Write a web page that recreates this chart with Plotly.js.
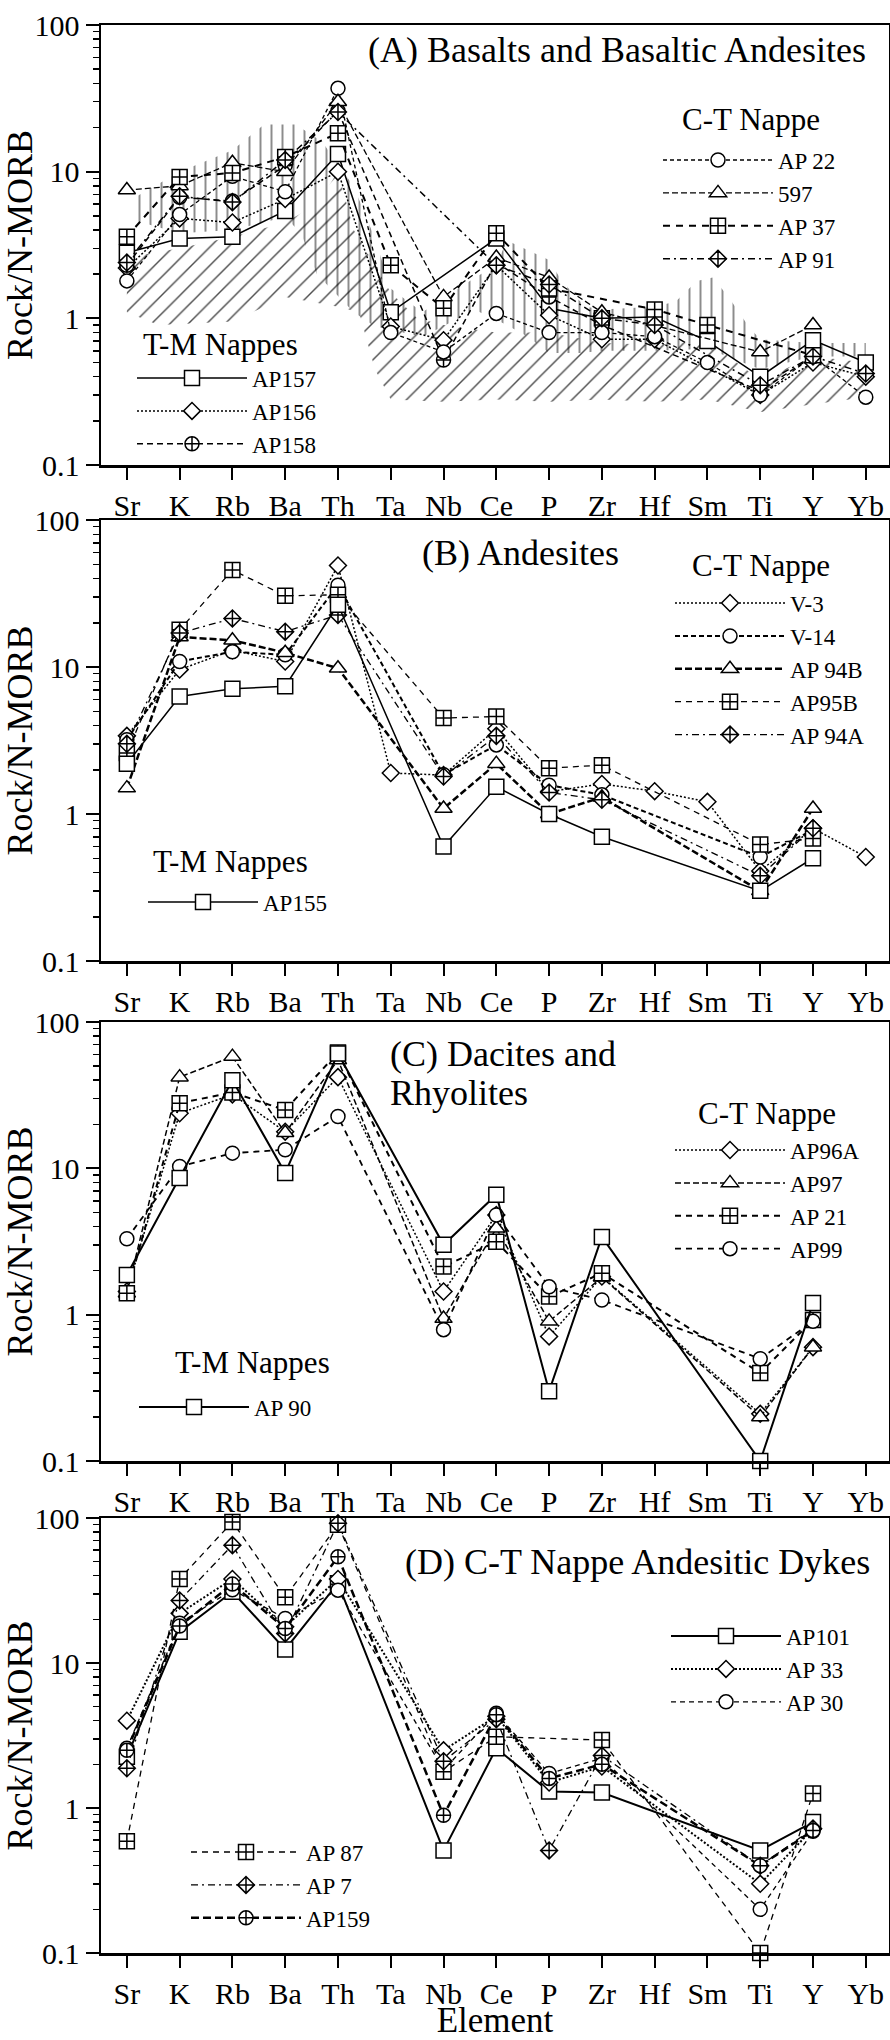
<!DOCTYPE html>
<html><head><meta charset="utf-8">
<script src="https://cdn.plot.ly/plotly-3.0.1.min.js"></script>
<style>html,body{margin:0;padding:0;background:#fff}</style>
</head><body>
<div id="chart" style="width:890px;height:2040px"></div>
<script>
// ---------- categories ----------
const elements = ['Sr','K','Rb','Ba','Th','Ta','Nb','Ce','P','Zr','Hf','Sm','Ti','Y','Yb'];
const yTickVals = [0.1, 1, 10, 100];
const yTickText = ['0.1', '1', '10', '100'];

// ---------- Panel A: Basalts and Basaltic Andesites ----------
const A_AP157 = [2.8, 3.5, 3.6, 5.4, 13.2, 1.1, null, 3.5, 1.17, 1.0, 1.02, 0.70, 0.40, 0.71, 0.50];
const A_AP156 = [2.2, 4.8, 4.5, 6.5, 10, 0.88, 0.71, 2.3, 1.05, 0.72, 0.72, null, 0.30, 0.50, 0.40];
const A_AP158 = [2.3, 6.7, 6.3, 11, 26, null, 0.52, 2.4, 1.4, 0.9, null, null, 0.32, 0.55, null];
const A_AP22  = [1.8, 5.1, 9.3, 7.3, 37, 0.80, 0.59, 1.08, 0.80, 0.80, 0.75, 0.50, 0.30, 0.55, 0.29];
const A_597   = [7.5, 8.0, 11.5, 10, 30, null, 1.4, 2.6, 1.9, 1.1, null, null, 0.59, 0.90, null];
const A_AP37  = [3.6, 9.2, 9.8, 12.6, 18.3, 2.3, 1.17, 3.8, 1.6, null, 1.15, 0.90, null, 0.56, null];
const A_AP91  = [2.4, 6.8, 6.2, 12, 25.5, null, null, 2.3, 1.7, 1.0, 0.9, null, 0.35, 0.55, 0.42];

// reference fields (panel A)
const fieldDotTopX = [0.1, 1, 2, 2.6, 3.2, 3.7, 4.3, 4.7, 5.0, 5.6, 6.6, 6.8, 7.0, 7.2, 7.6, 8.0, 8.2, 8.5, 8.7, 9, 10, 10.4, 10.8, 11.1, 11.4, 11.6, 11.8, 12.0, 13, 14];
const fieldDotTop  = [6.5, 10, 14, 21, 21, 16, 7.9, 3.5, 1.6, 1.1, 1.9, 2.1, 2.3, 3.4, 2.9, 2.5, 1.9, 1.4, 1.2, 1.15, 1.2, 1.3, 1.8, 1.9, 1.4, 1.1, 0.86, 0.72, 0.68, 0.68];
const fieldDotBotX = [0.1, 1, 2, 3, 3.3, 3.6, 4.3, 4.7, 5.6, 6.6, 7.2, 7.6, 8.0, 8.6, 9, 10, 11, 12, 13, 14];
const fieldDotBot  = [4.7, 3.8, 4.0, 4.9, 3.8, 2.0, 1.1, 0.88, 0.75, 1.14, 0.9, 0.75, 0.58, 0.58, 0.6, 0.6, 0.62, 0.45, 0.55, 0.55];
const fieldHatchTopX = [0, 1, 2, 3, 3.6, 4.0, 4.3, 5, 5.5, 6, 7, 8, 9, 10, 11, 12, 13, 14];
const fieldHatchTop  = [2.6, 3.0, 3.6, 4.5, 6, 10, 4, 1.5, 1.0, 0.9, 0.8, 0.8, 0.68, 0.66, 0.7, 0.38, 0.55, 0.5];
const fieldHatchBotX = [0, 0.6, 2, 3, 4, 4.4, 4.7, 5, 6, 7, 8, 9, 10, 11, 12, 13, 14];
const fieldHatchBot  = [1.1, 0.9, 0.95, 1.4, 1.2, 1.1, 0.45, 0.28, 0.27, 0.28, 0.27, 0.28, 0.27, 0.28, 0.23, 0.26, 0.29];

// ---------- Panel B: Andesites ----------
const B_AP155 = [2.2, 6.3, 7.1, 7.4, 26.5, null, 0.60, 1.53, 1.0, 0.70, null, null, 0.30, 0.50, null];
const B_V3    = [3.4, 9.6, 13, 10.9, 49, 1.9, 1.84, 3.8, 1.42, 1.6, 1.43, 1.21, 0.41, 0.80, 0.51];
const B_V14   = [3.2, 10.9, 12.7, 12.1, 36, null, 1.85, 2.95, 1.57, 1.35, null, null, 0.51, 0.78, null];
const B_AP94B = [1.5, 16, 15.2, 12.5, 9.8, null, 1.09, 2.2, 1.0, 1.3, null, null, 0.30, 1.09, null];
const B_AP95B = [2.6, 17.9, 45.7, 30.5, 31, null, 4.5, 4.6, 2.05, 2.15, null, null, 0.62, 0.68, null];
const B_AP94A = [3.0, 17, 21.4, 17.4, 22.6, null, 1.8, 3.4, 1.4, 1.25, null, null, 0.38, 0.80, null];

// ---------- Panel C: Dacites and Rhyolites ----------
const C_AP90  = [1.87, 8.6, 40, 9.3, 61, null, 3.0, 6.6, 0.30, 3.4, null, null, 0.10, 1.2, null];
const C_AP96A = [1.44, 23.8, 32, 17.8, 42, null, 1.44, 4.8, 0.71, 1.82, null, null, 0.21, 0.60, null];
const C_AP97  = [1.4, 42, 58, 17.5, 55, null, 0.94, 3.9, 0.90, 1.8, null, null, 0.20, 0.60, null];
const C_AP21  = [1.4, 27.9, 33, 25, 62, null, 2.13, 3.15, 1.33, 1.92, null, null, 0.40, 0.92, null];
const C_AP99  = [3.3, 10.3, 12.7, 13.4, 22.6, null, 0.79, 4.8, 1.55, 1.26, null, null, 0.50, 0.90, null];

// ---------- Panel D: C-T Nappe Andesitic Dykes ----------
const D_AP101 = [2.26, 16.4, 31, 12.4, 35.5, null, 0.51, 2.58, 1.3, 1.28, null, null, 0.51, 0.80, null];
const D_AP33  = [4.0, 22, 38, 17.8, 38, null, 2.5, 4.3, 1.5, 1.93, null, null, 0.30, 0.72, null];
const D_AP30  = [2.58, 18.8, 32, 20.3, 31.8, null, 1.83, 4.5, 1.73, 2.2, null, null, 0.20, 0.69, null];
const D_AP87  = [0.59, 38, 94, 28.4, 90, null, 1.78, 3.1, null, 2.94, null, null, 0.10, 1.26, null];
const D_AP7   = [1.88, 27, 65, 16, 92, null, 2.1, 4.1, 0.51, 2.3, null, null, 0.40, 0.72, null];
const D_AP159 = [2.5, 18, 35, 17.3, 54, null, 0.89, 4.4, 1.6, 2.0, null, null, 0.40, 0.70, null];

// ---------- layout geometry ----------
const FONT = 'Liberation Serif';
const W = 890, H = 2040;
const M = {l: 101, r: 1, t: 25, b: 87};
const PW = W - M.l - M.r, PH = H - M.t - M.b;
const fx = v => (v - M.l) / PW;
const fy = v => (H - M.b - v) / PH;
const panelPx = [[25, 465], [520, 961], [1022, 1461], [1518, 1953]];
const xIdx = elements.map((e, i) => i);

const traces = [];

function fieldTrace(topX, top, botX, bot, pattern) {
  return {
    type: 'scatter', mode: 'lines', xaxis: 'x', yaxis: 'y',
    x: topX.concat(botX.slice().reverse()),
    y: top.concat(bot.slice().reverse()),
    fill: 'toself', fillcolor: 'rgba(0,0,0,0)',
    fillpattern: pattern,
    line: {width: 0, color: 'rgba(0,0,0,0)'},
    hoverinfo: 'skip', showlegend: false
  };
}
traces.push(fieldTrace(fieldDotTopX, fieldDotTop, fieldDotBotX, fieldDotBot,
  {shape: '|', size: 11, solidity: 0.18, fgcolor: '#000', fgopacity: 0.45, bgcolor: 'rgba(0,0,0,0)'}));
traces.push(fieldTrace(fieldHatchTopX, fieldHatchTop, fieldHatchBotX, fieldHatchBot,
  {shape: '/', size: 13, solidity: 0.11, fgcolor: '#000', fgopacity: 0.7, bgcolor: 'rgba(0,0,0,0)'}));

const SIZES = {'square': 15, 'square-cross': 15, 'circle': 14, 'circle-cross': 14,
               'triangle-up': 15, 'diamond': 13, 'diamond-cross': 13};

function series(panel, name, y, symbol, dash, width, legend) {
  const sfx = panel === 1 ? '' : String(panel);
  return {
    type: 'scatter', mode: 'lines+markers', name: name,
    x: xIdx, y: y, xaxis: 'x' + sfx, yaxis: 'y' + sfx,
    connectgaps: true, legend: legend,
    line: {color: '#000', width: width, dash: dash},
    marker: {symbol: symbol, size: SIZES[symbol], color: '#fff', line: {color: '#000', width: 1.5}},
    cliponaxis: false
  };
}
const DOT = '2px,2px', DASHDOT = '7px,4px,2px,4px';

// Panel A
traces.push(series(1, 'AP157', A_AP157, 'square', 'solid', 1.5, 'legend'));
traces.push(series(1, 'AP156', A_AP156, 'diamond', DOT, 1.5, 'legend'));
traces.push(series(1, 'AP158', A_AP158, 'circle-cross', '6px,4px', 1.5, 'legend'));
traces.push(series(1, 'AP 22', A_AP22, 'circle', '4px,3px', 1.3, 'legend2'));
traces.push(series(1, '597', A_597, 'triangle-up', '6px,3px', 1.3, 'legend2'));
traces.push(series(1, 'AP 37', A_AP37, 'square-cross', '7px,6px', 2, 'legend2'));
traces.push(series(1, 'AP 91', A_AP91, 'diamond-cross', DASHDOT, 1.5, 'legend2'));
// Panel B
traces.push(series(2, 'V-3', B_V3, 'diamond', DOT, 1.5, 'legend3'));
traces.push(series(2, 'V-14', B_V14, 'circle', '5px,3px', 2, 'legend3'));
traces.push(series(2, 'AP 94B', B_AP94B, 'triangle-up', '7px,3px', 2.5, 'legend3'));
traces.push(series(2, 'AP95B', B_AP95B, 'square-cross', '6px,5px', 1.3, 'legend3'));
traces.push(series(2, 'AP 94A', B_AP94A, 'diamond-cross', DASHDOT, 1.3, 'legend3'));
traces.push(series(2, 'AP155', B_AP155, 'square', 'solid', 1.5, 'legend4'));
// Panel C
traces.push(series(3, 'AP96A', C_AP96A, 'diamond', DOT, 1.5, 'legend5'));
traces.push(series(3, 'AP97', C_AP97, 'triangle-up', '6px,3px', 1.5, 'legend5'));
traces.push(series(3, 'AP 21', C_AP21, 'square-cross', '6px,5px', 2, 'legend5'));
traces.push(series(3, 'AP99', C_AP99, 'circle', '6px,5px', 1.8, 'legend5'));
traces.push(series(3, 'AP 90', C_AP90, 'square', 'solid', 2, 'legend6'));
// Panel D
traces.push(series(4, 'AP101', D_AP101, 'square', 'solid', 2, 'legend7'));
traces.push(series(4, 'AP 33', D_AP33, 'diamond', DOT, 2, 'legend7'));
traces.push(series(4, 'AP 30', D_AP30, 'circle', '5px,4px', 1.3, 'legend7'));
traces.push(series(4, 'AP 87', D_AP87, 'square-cross', '6px,5px', 1.3, 'legend8'));
traces.push(series(4, 'AP 7', D_AP7, 'diamond-cross', DASHDOT, 1.3, 'legend8'));
traces.push(series(4, 'AP159', D_AP159, 'circle-cross', '8px,4px', 2.5, 'legend8'));

// ---------- layout ----------
const minorVals = [];
[0.1, 1, 10].forEach(d => { for (let k = 2; k <= 9; k++) minorVals.push(+(k * d).toPrecision(2)); });

const layout = {
  width: W, height: H, margin: M, paper_bgcolor: '#fff', plot_bgcolor: '#fff',
  font: {family: FONT, color: '#000'},
  hovermode: false, annotations: [], shapes: []
};

for (let p = 1; p <= 4; p++) {
  const sfx = p === 1 ? '' : String(p);
  const [top, bottom] = panelPx[p - 1];
  const xa = {
    domain: [0, 1], anchor: 'y' + sfx, range: [-0.49, 14.44],
    tickmode: 'array', tickvals: xIdx, ticktext: elements,
    ticks: 'outside', ticklen: 12, tickwidth: 2, tickcolor: '#000',
    tickfont: {family: FONT, size: 30, color: '#000'},
    showline: true, mirror: true, linewidth: 2.5, linecolor: '#000',
    showgrid: false, zeroline: false, fixedrange: true
  };
  if (p === 4) xa.title = {text: 'Element', font: {family: FONT, size: 35, color: '#000'}, standoff: 0};
  layout['xaxis' + sfx] = xa;
  layout['yaxis' + sfx] = {
    domain: [fy(bottom), fy(top)], anchor: 'x' + sfx, type: 'log', range: [-1, 2],
    tickmode: 'array', tickvals: yTickVals, ticktext: yTickText,
    ticks: 'outside', ticklen: 13, tickwidth: 2, tickcolor: '#000',
    tickfont: {family: FONT, size: 30, color: '#000'},
    minor: {tickmode: 'array', tickvals: minorVals, ticks: 'outside', ticklen: 6, tickwidth: 1.5, tickcolor: '#000', showgrid: false},
    showline: true, mirror: true, linewidth: 2.5, linecolor: '#000',
    showgrid: false, zeroline: false, fixedrange: true,
    title: {text: 'Rock/N-MORB', font: {family: FONT, size: 36, color: '#000'}, standoff: 0}
  };
}

// legends: [legend id, marker center x px, first item y px]
const legendSpecs = [
  ['legend', 182, 378], ['legend2', 708, 160],
  ['legend3', 720, 603], ['legend4', 193, 902],
  ['legend5', 720, 1150], ['legend6', 184, 1407],
  ['legend7', 716, 1636], ['legend8', 236, 1852]
];
const ITEMW = 110, LFONT = 23;
legendSpecs.forEach(([id, mx, y1]) => {
  const h = Math.max(LFONT * 1.3, 16) + 3;
  layout[id] = {
    x: fx(mx + 10 - (ITEMW + 10) / 2), xanchor: 'left',
    y: fy(y1 - h / 2 - 5), yanchor: 'top',
    bgcolor: 'rgba(0,0,0,0)', borderwidth: 0, itemwidth: ITEMW,
    traceorder: 'normal', tracegroupgap: 0,
    font: {family: FONT, size: LFONT, color: '#000'}
  };
});

// text labels: [text, left x px, center y px, size]
const labels = [
  ['(A) Basalts and Basaltic Andesites', 366, 50, 36],
  ['C-T Nappe', 680, 119, 31],
  ['T-M Nappes', 141, 345, 31],
  ['(B) Andesites', 420, 553, 36],
  ['C-T Nappe', 690, 565, 31],
  ['T-M Nappes', 151, 861, 31],
  ['(C) Dacites and', 388, 1054, 36],
  ['Rhyolites', 388, 1093, 36],
  ['C-T Nappe', 696, 1113, 31],
  ['T-M Nappes', 173, 1362, 31],
  ['(D) C-T Nappe Andesitic Dykes', 403, 1562, 36]
];
labels.forEach(([t, x, y, s]) => {
  layout.annotations.push({
    text: t, xref: 'paper', yref: 'paper', x: fx(x), y: fy(y),
    xanchor: 'left', yanchor: 'middle', showarrow: false,
    font: {family: FONT, size: s, color: '#000'}
  });
});

Plotly.newPlot('chart', traces, layout, {displayModeBar: false, staticPlot: true});
</script>
</body></html>
